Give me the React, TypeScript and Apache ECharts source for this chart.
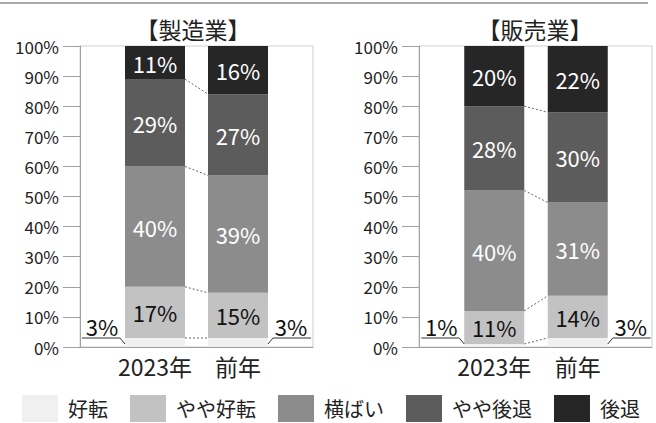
import React, { useEffect, useRef } from "react";
import * as echarts from "echarts";

const CATEGORIES = ["2023年", "前年"];
const SERIES_NAMES = ["好転", "やや好転", "横ばい", "やや後退", "後退"];
const MFG_2023 = [3, 17, 40, 29, 11];
const MFG_PREV = [3, 15, 39, 27, 16];
const SALES_2023 = [1, 11, 40, 28, 20];
const SALES_PREV = [3, 14, 31, 30, 22];
const PANEL_TITLES = ["【製造業】", "【販売業】"];

const COLORS = ["#f0f0f0", "#c2c2c2", "#8c8c8c", "#5c5c5c", "#262626"];
const LABEL_COLORS = ["#111", "#111", "#fff", "#fff", "#fff"];
const FONT = '"Noto Sans CJK JP", "Noto Sans", sans-serif';
const BW = 60;

function cumulative(arr: number[]) {
  const out: number[] = [];
  let s = 0;
  for (const v of arr) {
    s += v;
    out.push(s);
  }
  return out;
}

export default function App() {
  const ref = useRef<HTMLDivElement>(null);

  useEffect(() => {
    if (!ref.current) return;
    const chart = echarts.init(ref.current, null, { renderer: "svg" });

    const panels = [
      { cur: MFG_2023, prev: MFG_PREV, frameLeft: 80, barsLeft: 113.5, barsWidth: 166, titleX: 193 },
      { cur: SALES_2023, prev: SALES_PREV, frameLeft: 419, barsLeft: 452.5, barsWidth: 167, titleX: 535 },
    ];

    const grid: any[] = [];
    const xAxis: any[] = [];
    const yAxis: any[] = [];
    const series: any[] = [];
    const graphic: any[] = [
      {
        type: "line",
        shape: { x1: 0, y1: 3, x2: 648, y2: 3 },
        style: { stroke: "#aaa", lineWidth: 2 },
      },
    ];

    panels.forEach((p, pi) => {
      const fi = pi * 2;
      const bi = pi * 2 + 1;
      grid.push({
        left: p.frameLeft,
        top: 46,
        width: 233,
        height: 301,
        show: true,
        borderColor: "#cfcfcf",
        borderWidth: 1,
        backgroundColor: "transparent",
      });
      grid.push({ left: p.barsLeft, top: 46, width: p.barsWidth, height: 301 });

      xAxis.push({
        gridIndex: fi,
        type: "value",
        min: 0,
        max: 1,
        axisLabel: { show: false },
        axisTick: { show: false },
        splitLine: { show: false },
        axisLine: { show: true, lineStyle: { color: "#a0a0a0", width: 1 } },
      });
      xAxis.push({
        gridIndex: bi,
        type: "category",
        data: CATEGORIES,
        axisLine: { show: false },
        axisTick: { show: false },
        axisLabel: { interval: 0, fontSize: 23, color: "#222", fontFamily: FONT, margin: 7 },
      });
      yAxis.push({
        gridIndex: fi,
        type: "value",
        min: 0,
        max: 100,
        interval: 10,
        axisLine: { show: true, lineStyle: { color: "#a0a0a0" } },
        axisTick: { show: true, length: 17, lineStyle: { color: "#a0a0a0" } },
        splitLine: { show: false },
        axisLabel: {
          formatter: "{value}%",
          fontSize: 17,
          color: "#222",
          fontFamily: FONT,
          margin: 21,
        },
      });
      yAxis.push({ gridIndex: bi, type: "value", min: 0, max: 100, show: false });

      SERIES_NAMES.forEach((name, i) => {
        series.push({
          type: "bar",
          name,
          stack: "p" + pi,
          xAxisIndex: bi,
          yAxisIndex: bi,
          barWidth: BW,
          data: [p.cur[i], p.prev[i]],
          itemStyle: { color: COLORS[i] },
          label: {
            show: i > 0,
            position: "inside",
            formatter: "{c}%",
            fontSize: 22,
            color: LABEL_COLORS[i],
            fontFamily: FONT,
          },
        });
      });

      // outside labels for the first segment with leader lines
      series.push({
        type: "custom",
        name: "outside" + pi,
        xAxisIndex: bi,
        yAxisIndex: bi,
        clip: false,
        z: 10,
        data: [
          [0, p.cur[0], -1],
          [1, p.prev[0], 1],
        ],
        renderItem: (params: any, api: any) => {
          const cat = api.value(0);
          const side = api.value(2);
          const pt = api.coord([cat, 0]);
          const cx = pt[0];
          const y0 = pt[1];
          const edge = cx + (side * BW) / 2;
          const yh = y0 - 9;
          return {
            type: "group",
            children: [
              {
                type: "polyline",
                shape: {
                  points: [
                    [edge, y0 - 3],
                    [edge + side * 5, yh],
                    [edge + side * 43, yh],
                  ],
                },
                style: { stroke: "#333", lineWidth: 1, fill: null },
              },
              {
                type: "text",
                x: edge + side * 23,
                y: yh - 1,
                style: {
                  text: api.value(1) + "%",
                  align: "center",
                  verticalAlign: "bottom",
                  font: `22px ${FONT}`,
                  fill: "#111",
                },
              },
            ],
          };
        },
      });

      // connector lines between the bars
      const cc = cumulative(p.cur);
      const cp = cumulative(p.prev);
      const conn: number[][] = [];
      for (let k = 0; k < cc.length - 1; k++) conn.push([0, cc[k], cp[k]]);
      series.push({
        type: "custom",
        name: "connector" + pi,
        xAxisIndex: bi,
        yAxisIndex: bi,
        clip: false,
        z: 10,
        data: conn,
        renderItem: (params: any, api: any) => {
          const a = api.coord([0, api.value(1)]);
          const b = api.coord([1, api.value(2)]);
          return {
            type: "line",
            shape: { x1: a[0] + BW / 2, y1: a[1], x2: b[0] - BW / 2, y2: b[1] },
            style: { stroke: "#666", lineWidth: 1, lineDash: [2, 2] },
          };
        },
      });

      graphic.push({
        type: "text",
        x: p.titleX,
        y: 29,
        style: {
          text: PANEL_TITLES[pi],
          align: "center",
          verticalAlign: "middle",
          font: `23px ${FONT}`,
          fill: "#222",
        },
      });
    });

    chart.setOption({
      animation: false,
      backgroundColor: "#fff",
      grid,
      xAxis,
      yAxis,
      series,
      graphic,
      legend: {
        data: SERIES_NAMES,
        left: 22,
        top: 395,
        width: 634,
        padding: 0,
        itemWidth: 36,
        itemHeight: 27,
        itemGap: 22,
        icon: "rect",
        selectedMode: false,
        textStyle: {
          fontSize: 20,
          color: "#222",
          fontFamily: FONT,
          padding: [0, 0, 0, 5],
        },
      },
    });

    return () => chart.dispose();
  }, []);

  return (
    <div
      ref={ref}
      style={{ position: "absolute", left: 0, top: 0, width: 656, height: 423 }}
    />
  );
}
